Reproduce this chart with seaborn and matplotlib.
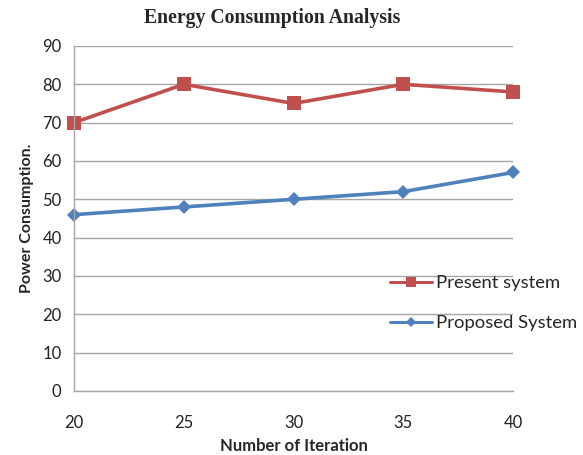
import matplotlib
matplotlib.use("Agg")
import matplotlib.pyplot as plt
import seaborn as sns
import pandas as pd

iterations = [20, 25, 30, 35, 40]
present_system = [70, 80, 75, 80, 78]
proposed_system = [46, 48, 50, 52, 57]
series_names = ["Present system", "Proposed System"]

df = pd.DataFrame({
    "Number of Iteration": iterations * 2,
    "Power Consumption.": present_system + proposed_system,
    "series": [series_names[0]] * len(iterations) + [series_names[1]] * len(iterations),
})

sns.set_style("white")
plt.rcParams["font.family"] = ["Lato", "DejaVu Sans"]

fig = plt.figure(figsize=(5.83, 4.55), dpi=100)
ax = fig.add_axes([0.127, 0.1407, 0.753, 0.7583])

palette = {series_names[0]: "#C0504D", series_names[1]: "#4F81BD"}
markers = {series_names[0]: "s", series_names[1]: "D"}
sns.lineplot(data=df, x="Number of Iteration", y="Power Consumption.", hue="series",
             style="series", markers=markers, dashes=False, palette=palette,
             linewidth=2.6, markersize=10, markeredgewidth=0, ax=ax, legend=True)

# per-series marker sizes (diamond smaller than square)
for ln in ax.lines:
    ln.set_clip_on(False)
    if ln.get_marker() == "D":
        ln.set_markersize(7.5)

handles, labels = ax.get_legend_handles_labels()
ax.get_legend().remove()

ax.set_xlim(20, 40)
ax.set_ylim(0, 90)
ax.set_xticks(iterations)
ax.set_yticks(range(0, 91, 10))
ax.yaxis.grid(True, color="#A6A6A6", linewidth=1)
ax.xaxis.grid(False)
for side in ["top", "right"]:
    ax.spines[side].set_visible(False)
for side in ["left", "bottom"]:
    ax.spines[side].set_color("#A6A6A6")
    ax.spines[side].set_linewidth(1)
ax.tick_params(axis="both", which="major", direction="out", length=5, width=1,
               color="#A6A6A6", labelsize=12, labelcolor="#222222", pad=4)
ax.tick_params(axis="x", pad=12)

ax.set_xlabel("Number of Iteration", fontsize=12, fontweight="bold", labelpad=5)
ax.set_ylabel("Power Consumption.", fontsize=11.5, fontweight="bold", labelpad=6)
fig.text(272 / 583, 1 - 18 / 455, "Energy Consumption Analysis", fontsize=14.2,
         fontweight="bold", family="Liberation Serif", ha="center", va="center")

leg = fig.legend(handles, labels, loc="upper left", bbox_to_anchor=(390 / 583, 1 - 275 / 455),
                 frameon=False, fontsize=13.3, handlelength=2.3, labelspacing=1.3,
                 handletextpad=0.2, borderpad=0, borderaxespad=0)
for h in leg.legend_handles:
    h.set_linewidth(2.2)
    if h.get_marker() == "D":
        h.set_markersize(5)
    else:
        h.set_markersize(7.5)

fig.savefig("out.png", dpi=100)
